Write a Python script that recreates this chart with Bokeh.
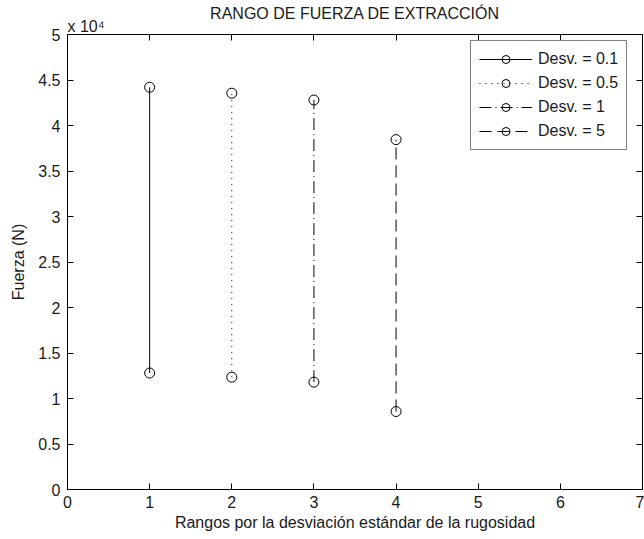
from bokeh.plotting import figure
from bokeh.models import Range1d, FixedTicker, LinearAxis, Legend, Title, CustomJSTickFormatter
from bokeh.embed import file_html
from bokeh.resources import INLINE

# ---- data ----
x_rangos = [1, 2, 3, 4]
fuerza_max = [44200, 43550, 42800, 38450]
fuerza_min = [12800, 12340, 11800, 8570]
series_labels = ["Desv. = 0.1", "Desv. = 0.5", "Desv. = 1", "Desv. = 5"]
x_ticks = [0, 1, 2, 3, 4, 5, 6, 7]
y_ticks = [0, 5000, 10000, 15000, 20000, 25000, 30000, 35000, 40000, 45000, 50000]
y_tick_labels = ["0", "0.5", "1", "1.5", "2", "2.5", "3", "3.5", "4", "4.5", "5"]

title_text = "RANGO DE FUERZA DE EXTRACCIÓN"
exp_text = "x 10⁴"
x_label = "Rangos por la desviación estándar de la rugosidad"
y_label = "Fuerza (N)"

FONT = "Liberation Sans"
FS = "16px"
TXT = "#1a1a1a"
dashes = ["solid", "1 5", "12 4 1 4", "12 6"]

p = figure(width=644, height=539, output_backend="svg", toolbar_location=None,
           x_range=Range1d(0, 7), y_range=Range1d(0, 50000),
           min_border_left=67, min_border_right=2, min_border_top=34, min_border_bottom=50)
p.background_fill_color = "white"
p.border_fill_color = "white"
p.outline_line_color = "black"
p.outline_line_width = 1
p.xgrid.visible = False
p.ygrid.visible = False

def style_axis(ax, labels=True):
    ax.major_tick_in = 6
    ax.major_tick_out = 0
    ax.minor_tick_in = 0
    ax.minor_tick_out = 0
    ax.axis_line_color = "black"
    ax.major_tick_line_color = "black"
    ax.major_label_text_font = FONT
    ax.major_label_text_font_size = FS
    ax.major_label_text_color = TXT
    ax.major_label_standoff = 6 if labels else 0
    ax.axis_label_text_font = FONT
    ax.axis_label_text_font_size = FS
    ax.axis_label_text_font_style = "normal"
    ax.axis_label_text_color = TXT

p.xaxis.ticker = FixedTicker(ticks=x_ticks)
p.yaxis.ticker = FixedTicker(ticks=y_ticks)
p.yaxis.major_label_overrides = {t: l for t, l in zip(y_ticks, y_tick_labels)}
p.xaxis.axis_label = x_label
p.yaxis.axis_label = y_label
style_axis(p.xaxis[0])
style_axis(p.yaxis[0])
p.xaxis.major_label_standoff = 6
p.yaxis.major_label_standoff = 7
p.xaxis.axis_label_standoff = 3
p.yaxis.axis_label_standoff = 8

blank = CustomJSTickFormatter(code="return ''")
top_ax = LinearAxis(ticker=FixedTicker(ticks=x_ticks), formatter=blank)
right_ax = LinearAxis(ticker=FixedTicker(ticks=y_ticks), formatter=blank)
style_axis(top_ax, labels=False)
style_axis(right_ax, labels=False)
p.add_layout(top_ax, "above")
p.add_layout(right_ax, "right")

exp_title = Title(text=exp_text, align="left", offset=0, standoff=0,
                  text_font=FONT, text_font_size=FS, text_font_style="normal",
                  text_color=TXT)
p.add_layout(exp_title, "above")

p.title.text = title_text
p.title.align = "center"
p.title.standoff = -12
p.title.text_font = FONT
p.title.text_font_size = FS
p.title.text_font_style = "normal"
p.title.text_color = TXT

items = []
for i in range(len(x_rangos)):
    xs = [x_rangos[i], x_rangos[i]]
    ys = [fuerza_min[i], fuerza_max[i]]
    r1 = p.line(xs, ys, line_color="black", line_width=1, line_dash=dashes[i])
    r2 = p.scatter(xs, ys, marker="circle", size=10, fill_color=None,
                   line_color="black", line_width=1)
    items.append((series_labels[i], [r1, r2]))

legend = Legend(items=items, location=(403, 339))
legend.label_text_font = FONT
legend.label_text_font_size = FS
legend.label_text_color = TXT
legend.glyph_width = 53
legend.glyph_height = 20
legend.label_height = 20
legend.spacing = 4
legend.padding = 8
legend.label_standoff = 6
legend.border_line_color = "black"
legend.border_line_width = 1
legend.background_fill_color = "white"
legend.background_fill_alpha = 1
p.add_layout(legend, "center")

open("out.html", "w").write(file_html(p, INLINE))
